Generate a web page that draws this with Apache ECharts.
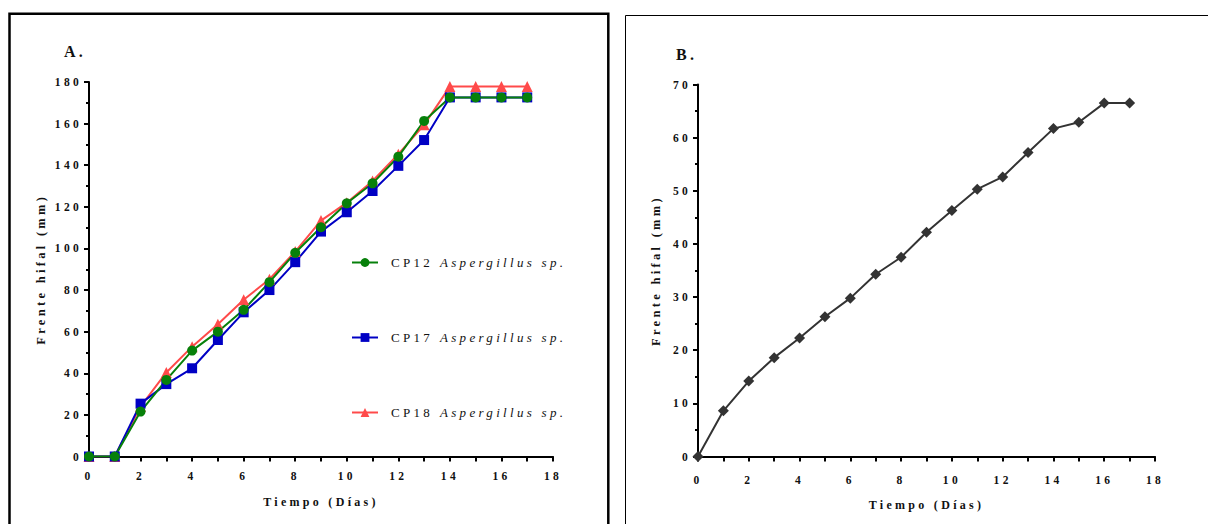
<!DOCTYPE html>
<html>
<head>
<meta charset="utf-8">
<script src="https://cdn.jsdelivr.net/npm/echarts@6/dist/echarts.min.js"></script>
<style>
  html, body { margin: 0; padding: 0; background: #fff; }
  #chart { width: 1208px; height: 524px; }
  /* wide tracking on every label, as in the printed figure */
  #chart text { letter-spacing: 3.3px; }
</style>
</head>
<body>
<div id="chart"></div>
<script>
// Hyphal front growth (mm) per day
const days = [0, 1, 2, 3, 4, 5, 6, 7, 8, 9, 10, 11, 12, 13, 14, 15, 16, 17];

// Panel A: three Aspergillus isolates
const cp12 = [0, 0, 21.6, 36.8, 50.9, 60.0, 70.5, 83.8, 97.9, 110.2, 121.7, 131.3, 144.1, 161.3, 172.6, 172.6, 172.6, 172.6];
const cp17 = [0, 0, 25.4, 34.8, 42.4, 56.0, 69.3, 80.0, 93.4, 108.1, 117.4, 127.6, 139.7, 152.1, 172.6, 172.6, 172.6, 172.6];
const cp18 = [0, 0, 24.0, 40.4, 52.8, 63.6, 75.3, 85.2, 98.5, 113.4, 122.0, 132.4, 145.3, 159.4, 177.8, 177.8, 177.8, 177.8];

// Panel B: single isolate
const panelB = [0, 8.6, 14.2, 18.6, 22.3, 26.3, 29.8, 34.3, 37.5, 42.2, 46.3, 50.3, 52.6, 57.2, 61.7, 62.9, 66.5, 66.5];

const seriesNames = ['CP12 Aspergillus sp.', 'CP17 Aspergillus sp.', 'CP18 Aspergillus sp.'];
const panelTitles = ['A.', 'B.'];
const xAxisName = 'Tiempo (Días)';
const yAxisName = 'Frente hifal (mm)';
const xRange = [0, 18];
const yRangeA = [0, 180];
const yRangeB = [0, 70];

const pairs = vals => days.map((d, i) => [d, vals[i]]);

const serif = "'Liberation Serif', 'Times New Roman', serif";
const ink = '#111';

function xAxisFor(gridIndex, labelMargin, nameGap) {
  return {
    gridIndex, type: 'value', min: xRange[0], max: xRange[1], interval: 1,
    name: xAxisName, nameLocation: 'middle', nameGap,
    nameTextStyle: { fontFamily: serif, fontWeight: 'bold', fontSize: 12, color: ink },
    axisLine: { show: true, onZero: false, lineStyle: { color: '#000', width: 2 } },
    axisTick: { show: true, length: 5, lineStyle: { color: '#000', width: 2 } },
    axisLabel: {
      margin: labelMargin, fontFamily: serif, fontWeight: 'bold', fontSize: 11.5, color: ink,
      showMinLabel: true, showMaxLabel: true,
      formatter: v => (v % 2 === 0 ? String(v) : '')
    },
    splitLine: { show: false }
  };
}

function yAxisFor(gridIndex, range, step, nameGap) {
  return {
    gridIndex, type: 'value', min: range[0], max: range[1], interval: step,
    name: yAxisName, nameLocation: 'middle', nameGap, nameRotate: 90,
    nameTextStyle: { fontFamily: serif, fontWeight: 'bold', fontSize: 12.5, color: ink },
    axisLine: { show: true, onZero: false, lineStyle: { color: '#000', width: 2 } },
    axisTick: { show: true, length: 5, lineStyle: { color: '#000', width: 2 } },
    minorTick: { show: true, splitNumber: 2, length: 3, lineStyle: { color: '#000', width: 2 } },
    axisLabel: { margin: 7, fontFamily: serif, fontWeight: 'bold', fontSize: 11.5, color: ink },
    splitLine: { show: false }
  };
}

const chart = echarts.init(document.getElementById('chart'), null, { renderer: 'svg' });

chart.setOption({
  animation: false,
  backgroundColor: '#fff',
  title: [
    { text: panelTitles[0], left: 59, top: 38, textStyle: { fontFamily: serif, fontWeight: 'bold', fontSize: 16, color: ink } },
    { text: panelTitles[1], left: 671, top: 41, textStyle: { fontFamily: serif, fontWeight: 'bold', fontSize: 16, color: ink } }
  ],
  graphic: [
    { type: 'rect', silent: true, shape: { x: 9.5, y: 13.7, width: 598.8, height: 530 },
      style: { fill: 'none', stroke: '#000', lineWidth: 2.5 } },
    { type: 'rect', silent: true, shape: { x: 625.5, y: 15.5, width: 600, height: 530 },
      style: { fill: 'none', stroke: '#000', lineWidth: 1 } }
  ],
  grid: [
    { left: 89, top: 82, width: 464, height: 374.5 },
    { left: 698, top: 84.5, width: 457, height: 372 }
  ],
  xAxis: [xAxisFor(0, 13, 39), xAxisFor(1, 17, 42)],
  yAxis: [yAxisFor(0, yRangeA, 20, 42), yAxisFor(1, yRangeB, 10, 36)],
  legend: {
    data: seriesNames,
    orient: 'vertical',
    left: 346, top: 251,
    itemGap: 62, itemWidth: 26, itemHeight: 11,
    selectedMode: false,
    textStyle: {
      fontFamily: serif, fontSize: 13, color: ink, padding: [0, 0, 0, 8],
      rich: {
        n: { fontFamily: serif, fontSize: 13, color: ink, width: 49 },
        i: { fontFamily: serif, fontSize: 13, color: ink, fontStyle: 'italic' }
      }
    },
    formatter: name => {
      const k = name.indexOf(' ');
      return '{n|' + name.slice(0, k) + '}{i|' + name.slice(k + 1) + '}';
    }
  },
  series: [
    { name: seriesNames[2], type: 'line', xAxisIndex: 0, yAxisIndex: 0, data: pairs(cp18),
      symbol: 'triangle', symbolSize: 11, color: '#ff4a4a',
      lineStyle: { width: 2, color: '#ff4a4a' }, itemStyle: { color: '#ff4a4a' } },
    { name: seriesNames[1], type: 'line', xAxisIndex: 0, yAxisIndex: 0, data: pairs(cp17),
      symbol: 'rect', symbolSize: 10, color: '#0000c4',
      lineStyle: { width: 2, color: '#0000c4' }, itemStyle: { color: '#0000c4' } },
    { name: seriesNames[0], type: 'line', xAxisIndex: 0, yAxisIndex: 0, data: pairs(cp12),
      symbol: 'circle', symbolSize: 10, color: '#07800a',
      lineStyle: { width: 2, color: '#07800a' }, itemStyle: { color: '#07800a' } },
    { name: 'B', type: 'line', xAxisIndex: 1, yAxisIndex: 1, data: pairs(panelB),
      symbol: 'diamond', symbolSize: 11, color: '#333',
      lineStyle: { width: 2, color: '#333' }, itemStyle: { color: '#333' } }
  ]
});
</script>
</body>
</html>
